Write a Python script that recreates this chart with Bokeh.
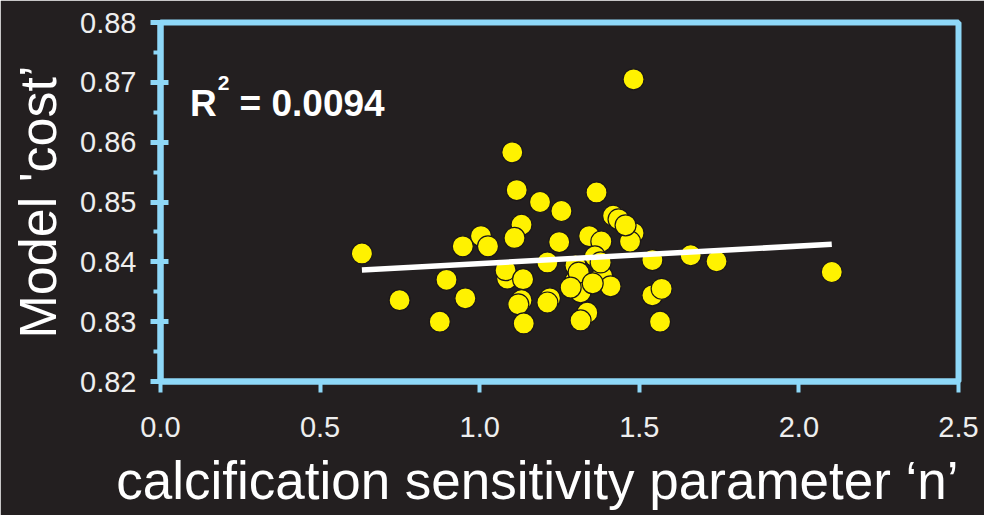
from bokeh.embed import file_html
from bokeh.models import FixedTicker, Label, PrintfTickFormatter, Range1d
from bokeh.plotting import figure
from bokeh.resources import INLINE

# Calcification sensitivity parameter n versus model cost for each run
n_param = [
    1.482, 1.102, 1.116, 1.189, 1.256, 1.366, 1.418, 1.435, 1.482, 1.471,
    1.131, 1.109, 1.004, 1.026, 0.947, 1.249, 1.343, 1.381, 0.631, 1.212,
    1.300, 1.361, 1.086, 1.081, 1.136, 1.300, 1.384, 1.410, 0.896, 0.955,
    0.749, 0.875, 1.131, 1.121, 1.220, 1.212, 1.316, 1.337, 1.316, 1.138,
    1.541, 1.541, 1.570, 1.565, 1.661, 1.742, 2.103, 1.379, 1.310, 1.354,
    1.457, 1.285,
]
model_cost = [
    0.8705, 0.8583, 0.8520, 0.8500, 0.8485, 0.8516, 0.8477, 0.8471, 0.8448, 0.8434,
    0.8462, 0.8440, 0.8443, 0.8426, 0.8426, 0.8433, 0.8443, 0.8434, 0.8414, 0.8399,
    0.8394, 0.8409, 0.8372, 0.8386, 0.8371, 0.8369, 0.8376, 0.8359, 0.8370, 0.8339,
    0.8336, 0.8300, 0.8336, 0.8329, 0.8339, 0.8332, 0.8349, 0.8315, 0.8302, 0.8297,
    0.8403, 0.8344, 0.8355, 0.8300, 0.8411, 0.8401, 0.8383, 0.8399, 0.8382, 0.8364,
    0.8461, 0.8357,
]

# Least-squares trend line end points
fit_x = [0.631, 2.103]
fit_y = [0.83863, 0.84293]
r_squared = "0.0094"

x_ticks = [0.0, 0.5, 1.0, 1.5, 2.0, 2.5]
y_ticks = [0.82, 0.83, 0.84, 0.85, 0.86, 0.87, 0.88]
y_minor = [0.825, 0.835, 0.845, 0.855, 0.865, 0.875]

BG = "#231F20"
FRAME = "#8ED8F8"
FONT = "Liberation Sans"

p = figure(
    width=984, height=515,
    x_range=Range1d(0.0, 2.5), y_range=Range1d(0.82, 0.88),
    output_backend="svg", toolbar_location=None,
    min_border_left=160, min_border_right=26,
    min_border_top=22, min_border_bottom=134,
)
p.background_fill_color = BG
p.border_fill_color = BG
p.outline_line_color = FRAME
p.outline_line_width = 6
p.grid.visible = False

# x axis: outward major ticks only
xa = p.xaxis[0]
xa.ticker = FixedTicker(ticks=x_ticks)
xa.formatter = PrintfTickFormatter(format="%.1f")
xa.axis_line_color = FRAME
xa.axis_line_width = 6
xa.major_tick_line_color = FRAME
xa.major_tick_line_width = 4
xa.major_tick_in = 0
xa.major_tick_out = 11
xa.minor_tick_line_color = None
xa.major_label_standoff = 24
xa.major_label_text_font = FONT
xa.major_label_text_font_size = "29px"
xa.major_label_text_color = "#EEEEEE"
# trailing no-break spaces nudge the centred title towards the right edge
xa.axis_label = "calcification sensitivity parameter \u2018n\u2019\u00a0\u00a0\u00a0"
xa.axis_label_text_font = FONT
xa.axis_label_text_font_size = "53px"
xa.axis_label_text_font_style = "normal"
xa.axis_label_text_color = "white"
xa.axis_label_standoff = 11

# y axis: major ticks across the line, short outward minor ticks
ya = p.yaxis[0]
ya.ticker = FixedTicker(ticks=y_ticks, minor_ticks=y_minor)
ya.formatter = PrintfTickFormatter(format="%.2f")
ya.axis_line_color = FRAME
ya.axis_line_width = 6
ya.major_tick_line_color = FRAME
ya.major_tick_line_width = 5
ya.major_tick_in = 8
ya.major_tick_out = 10
ya.minor_tick_line_color = FRAME
ya.minor_tick_line_width = 4
ya.minor_tick_in = 0
ya.minor_tick_out = 7
ya.major_label_standoff = 14
ya.major_label_text_font = FONT
ya.major_label_text_font_size = "29px"
ya.major_label_text_color = "#EEEEEE"
ya.axis_label = "Model 'cost\u2019"
ya.axis_label_text_font = FONT
ya.axis_label_text_font_size = "52px"
ya.axis_label_text_font_style = "normal"
ya.axis_label_text_color = "white"
ya.axis_label_standoff = 10

p.scatter(n_param, model_cost, size=21, fill_color="#FFF200",
          line_color="#1B1718", line_width=1.2)
p.line(fit_x, fit_y, line_color="white", line_width=5.5)

# R-squared annotation
p.add_layout(Label(x=0.0925, y=0.86653, text="R", text_font=FONT,
                   text_font_size="37px", text_font_style="bold",
                   text_color="white", text_baseline="alphabetic"))
p.add_layout(Label(x=0.1790, y=0.86990, text="2", text_font=FONT,
                   text_font_size="21px", text_font_style="bold",
                   text_color="white", text_baseline="alphabetic"))
p.add_layout(Label(x=0.2478, y=0.86653, text="= " + r_squared, text_font=FONT,
                   text_font_size="37px", text_font_style="bold",
                   text_color="white", text_baseline="alphabetic"))

open("out.html", "w").write(file_html(p, INLINE))
